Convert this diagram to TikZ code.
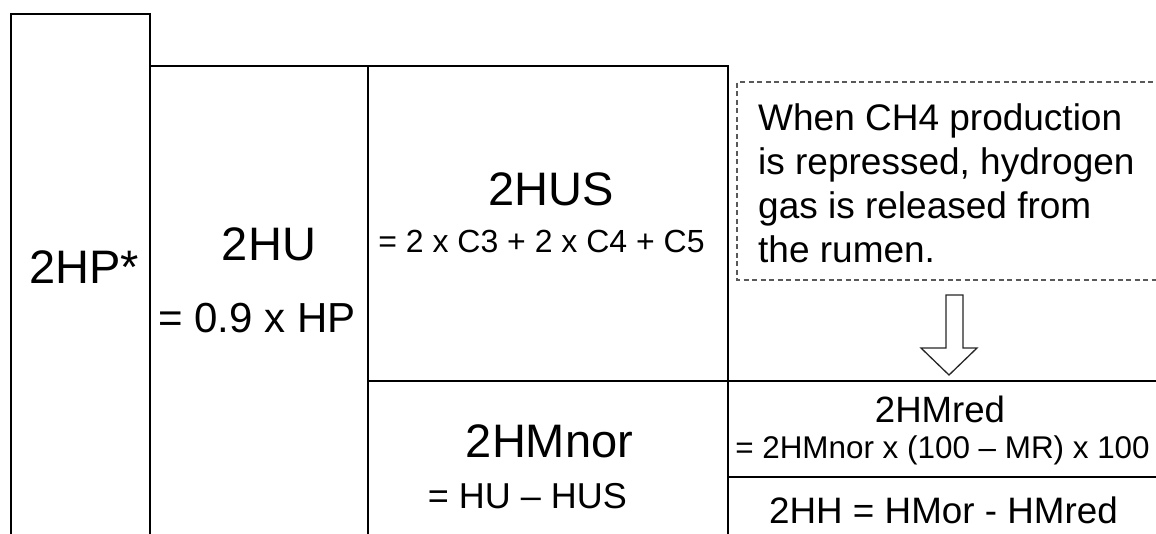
\documentclass[tikz,border=0pt]{standalone}
\usepackage{fontspec}
\setmainfont{Liberation Sans}
\begin{document}
\begin{tikzpicture}[x=1pt,y=-1pt,
  cell/.style={line width=2.6pt,line cap=rect,line join=miter},
  note/.style={draw=black!65,line width=1.3pt,dash pattern=on 5pt off 3.5pt},
  blockarrow/.style={draw=black!85,line width=1.3pt,fill=white,line join=miter},
  lbl/.style={inner sep=0pt,anchor=base},
  fs/.style={font=\fontsize{#1}{#1}\selectfont}]
\useasboundingbox (0,0) rectangle (1156,533);
\clip (0,0) rectangle (1156,533);
% cell outlines
\draw[cell] (11,545) -- (11,14) -- (150,14) -- (150,545);
\draw[cell] (150,66) -- (728,66);
\draw[cell] (368,66) -- (368,545);
\draw[cell] (728,66) -- (728,545);
\draw[cell] (368,381) -- (1170,381);
\draw[cell] (728,477) -- (1170,477);
% dashed note
\draw[note] (1170,82) -- (737,82) -- (737,280) -- (1170,280);
\node[inner sep=0pt,anchor=base west,align=left,font=\fontsize{37}{44}\selectfont] (note) at (758,262)
  {When CH4 production\\is repressed, hydrogen\\gas is released from\\the rumen.};
% block arrow
\coordinate (arrtip) at (949,375);
\draw[blockarrow] (946,295) -- (963,295) -- (963,348) -- (977,348) -- (arrtip) -- (921,348) -- (946,348) -- cycle;
% labels
\node[lbl,fs=47] (hp) at (84,283) {2HP*};
\node[lbl,fs=47] (hu) at (269,260) {2HU};
\node[lbl,fs=42] (hueq) at (257,332) {= 0.9 x HP};
\node[lbl,fs=47] (hus) at (551,205) {2HUS};
\node[lbl,fs=32] (huseq) at (541.5,252) {= 2 x C3 + 2 x C4 + C5};
\node[lbl,fs=47] (hmnor) at (549.5,457) {2HMnor};
\node[lbl,fs=36] (hmnoreq) at (527.5,508) {= HU – HUS};
\node[lbl,fs=36.6] (hmred) at (940,422) {2HMred};
\node[lbl,fs=31.4] (hmredeq) at (942.5,458) {= 2HMnor x (100 – MR) x 100};
\node[lbl,fs=36.8] (hh) at (943.5,523) {2HH = HMor - HMred};
\end{tikzpicture}
\end{document}
